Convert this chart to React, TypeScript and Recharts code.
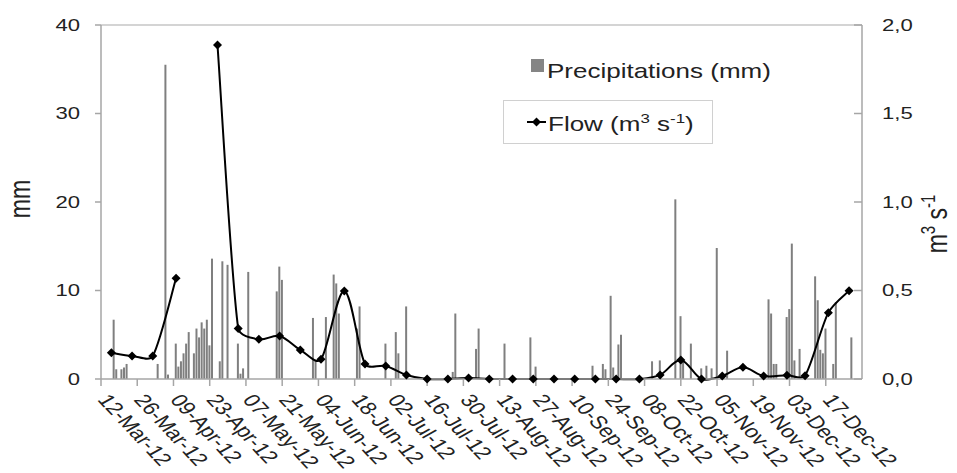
import { ComposedChart, Bar, Line, XAxis, YAxis, ReferenceLine } from "recharts";

// day 0 = 12-Mar-12, axis ends 31-Dec-12 (day 294)
const tickDays = [0, 14, 28, 42, 56, 70, 84, 98, 112, 126, 140, 154, 168, 182, 196, 210, 224, 238, 252, 266, 280];
const tickLabels = [
  "12-Mar-12", "26-Mar-12", "09-Apr-12", "23-Apr-12", "07-May-12", "21-May-12", "04-Jun-12",
  "18-Jun-12", "02-Jul-12", "16-Jul-12", "30-Jul-12", "13-Aug-12", "27-Aug-12", "10-Sep-12",
  "24-Sep-12", "08-Oct-12", "22-Oct-12", "05-Nov-12", "19-Nov-12", "03-Dec-12", "17-Dec-12",
];

const rainDay = [
  5, 6, 8, 9, 10, 22, 25, 26, 29, 30, 31, 32, 33, 34, 36, 37, 38, 39, 40, 41, 42, 43, 46, 47, 49,
  53, 54, 55, 57, 68, 69, 70, 82, 83, 87, 90, 91, 92, 99, 100, 110, 114, 115, 118, 136, 137, 145,
  146, 156, 166, 168, 190, 194, 195, 197, 198, 200, 201, 213, 216, 222, 224, 225, 228, 232, 234,
  236, 238, 242, 258, 259, 260, 261, 265, 266, 267, 268, 270, 276, 277, 278, 279, 280, 283, 284, 290,
];
const rainMm = [
  6.7, 1.1, 1.1, 1.3, 1.7, 1.7, 35.5, 0.5, 4.0, 1.4, 2.0, 2.9, 4.0, 5.3, 2.9, 5.7, 4.7, 6.4, 5.7,
  6.7, 3.8, 13.6, 2.0, 13.3, 12.9, 4.0, 0.6, 1.2, 12.1, 9.9, 12.7, 11.2, 6.9, 2.0, 7.0, 11.8, 10.8,
  7.4, 5.7, 8.2, 4.0, 5.3, 2.9, 8.2, 0.8, 7.4, 3.4, 5.7, 4.0, 4.7, 1.4, 1.5, 1.7, 1.1, 9.4, 1.3,
  3.9, 5.0, 2.0, 2.1, 20.3, 7.1, 2.1, 4.0, 1.2, 1.5, 1.2, 14.8, 3.2, 9.0, 7.4, 1.7, 1.7, 7.0, 7.9,
  15.3, 2.1, 3.4, 11.6, 8.9, 3.3, 2.9, 5.7, 1.7, 8.7, 4.7,
];

const flowDay = [
  4, 12, 20, 29, 37, 45, 53, 61, 69, 77, 85, 94, 102, 110, 118, 126, 134, 142, 150, 159, 167, 175,
  183, 191, 199, 208, 216, 224, 232, 240, 248, 256, 265, 272, 281, 289,
];
const flowM3s = [
  0.148, 0.13, 0.13, 0.569, null, 1.887, 0.286, 0.224, 0.243, 0.164, 0.111, 0.497, 0.085, 0.073,
  0.023, 0, 0, 0.005, 0, 0, 0, 0, 0, 0, 0, 0, 0.023, 0.107, 0, 0.017, 0.066, 0.017, 0.021, 0.019,
  0.375, 0.499,
];

const rainData = rainDay.map((day, i) => ({ day, mm: rainMm[i] }));
const flowData = flowDay.map((day, i) => ({ day, flow: flowM3s[i] }));

const FONT = "'Liberation Sans', Arial, sans-serif";
const SX = 1.3; // the source image is stretched sideways
const AXIS = "#a6a6a6";
const INK = "#222";

// Excel-like smoothed line: tangent along neighbours, handle length capped by the segment
const excelSmooth = (context: any) => {
  let pts: number[][] = [];
  const handle = (a: number[], b: number[], seg: number) => {
    const dx = b[0] - a[0];
    const dy = b[1] - a[1];
    const d = Math.hypot(dx, dy) || 1;
    const len = Math.min(seg / 3, d / 6);
    return [(dx / d) * len, (dy / d) * len];
  };
  return {
    areaStart() {},
    areaEnd() {},
    lineStart() {
      pts = [];
    },
    point(x: number, y: number) {
      pts.push([+x, +y]);
    },
    lineEnd() {
      if (!pts.length) return;
      context.moveTo(pts[0][0], pts[0][1]);
      for (let i = 0; i < pts.length - 1; i++) {
        const p0 = pts[i - 1] || pts[i];
        const p1 = pts[i];
        const p2 = pts[i + 1];
        const p3 = pts[i + 2] || p2;
        const seg = Math.hypot(p2[0] - p1[0], p2[1] - p1[1]);
        const t1 = handle(p0, p2, seg);
        const t2 = handle(p1, p3, seg);
        context.bezierCurveTo(p1[0] + t1[0], p1[1] + t1[1], p2[0] - t2[0], p2[1] - t2[1], p2[0], p2[1]);
      }
    },
  };
};

const LeftTick = ({ x, y, payload }: any) => (
  <g transform={`translate(${x},${y})`}>
    <text transform={`scale(${SX},1)`} textAnchor="end" dy="0.35em" fontSize={17} fill={INK} fontFamily={FONT}>
      {payload.value}
    </text>
  </g>
);

const RightTick = ({ x, y, payload }: any) => (
  <g>
    <line x1={x - 28} x2={x - 20} y1={y} y2={y} stroke={AXIS} strokeWidth={1.5} />
    <g transform={`translate(${x},${y})`}>
      <text transform={`scale(${SX},1)`} textAnchor="start" dy="0.35em" fontSize={17} fill={INK} fontFamily={FONT}>
        {Number(payload.value).toFixed(1).replace(".", ",")}
      </text>
    </g>
  </g>
);

const DateTick = ({ x, y, payload }: any) => {
  const label = tickLabels[tickDays.indexOf(payload.value)] ?? "";
  return (
    <g transform={`translate(${x + 10},${y})`}>
      <text transform={`scale(${SX},1) rotate(54)`} textAnchor="start" dy="0.75em" fontSize={18} fill={INK} fontFamily={FONT}>
        {label}
      </text>
    </g>
  );
};

const Diamond = (props: any) => {
  const { cx, cy, index, payload } = props;
  if (payload?.flow == null || cx == null || cy == null) return <g key={index} />;
  const r = 4.5;
  return (
    <polygon key={index} points={`${cx},${cy - r} ${cx + r},${cy} ${cx},${cy + r} ${cx - r},${cy}`} fill="#000" />
  );
};

export default function App() {
  return (
    <div style={{ position: "relative", width: 957, height: 473, background: "#fff", fontFamily: FONT }}>
      <style>{"body{margin:0}"}</style>
      <ComposedChart width={957} height={473} data={rainData} margin={{ top: 25, right: 0, bottom: 0, left: 41 }}>
        <XAxis
          dataKey="day"
          type="number"
          domain={[0, 294]}
          ticks={tickDays}
          interval={0}
          tick={<DateTick />}
          tickSize={7}
          tickMargin={6}
          height={94}
          stroke={AXIS}
          strokeWidth={1.5}
        />
        <YAxis
          yAxisId="left"
          domain={[0, 40]}
          ticks={[0, 10, 20, 30, 40]}
          width={60}
          tick={<LeftTick />}
          tickSize={6}
          tickMargin={15}
          stroke={AXIS}
          strokeWidth={1.5}
        />
        <YAxis
          yAxisId="right"
          orientation="right"
          domain={[0, 2]}
          ticks={[0, 0.5, 1, 1.5, 2]}
          width={95}
          tick={<RightTick />}
          tickSize={0}
          tickMargin={20}
          stroke={AXIS}
          strokeWidth={1.5}
        />
        <ReferenceLine yAxisId="left" y={40} stroke="#d4d4d4" strokeWidth={2} />
        <Bar yAxisId="left" dataKey="mm" barSize={2} fill="#7f7f7f" isAnimationActive={false} />
        <Line
          yAxisId="right"
          data={flowData}
          dataKey="flow"
          type={excelSmooth as any}
          stroke="#000"
          strokeWidth={2}
          dot={<Diamond />}
          activeDot={false}
          connectNulls={false}
          isAnimationActive={false}
        />
      </ComposedChart>

      <svg width={957} height={473} style={{ position: "absolute", left: 0, top: 0, pointerEvents: "none" }}>
        {/* axis titles */}
        <g transform="translate(30,199)">
          <text transform={`scale(${SX},1) rotate(-90)`} textAnchor="middle" fontSize={23} fill={INK} fontFamily={FONT}>
            mm
          </text>
        </g>
        <g transform="translate(947,224)">
          <text transform={`scale(${SX},1) rotate(-90)`} textAnchor="middle" fontSize={23} fill={INK} fontFamily={FONT}>
            m<tspan fontSize={15} dy={-9}>3</tspan>
            <tspan dy={9}> s</tspan>
            <tspan fontSize={15} dy={-9}>-1</tspan>
          </text>
        </g>

        {/* legend */}
        <rect x={531} y={59} width={13} height={13} fill="#858585" />
        <g transform="translate(547,78)">
          <text transform={`scale(${SX},1)`} fontSize={20} fill={INK} fontFamily={FONT}>
            Precipitations (mm)
          </text>
        </g>
        <rect x={503.5} y={100.5} width={209} height={43} fill="#fff" stroke="#d0d0d0" />
        <line x1={527} x2={546} y1={122} y2={122} stroke="#000" strokeWidth={2} />
        <polygon points="536.5,117.5 541,122 536.5,126.5 532,122" fill="#000" />
        <g transform="translate(548,131)">
          <text transform={`scale(${SX},1)`} fontSize={20} fill={INK} fontFamily={FONT}>
            Flow (m<tspan fontSize={13} dy={-8}>3</tspan>
            <tspan dy={8}> s</tspan>
            <tspan fontSize={13} dy={-8}>-1</tspan>
            <tspan dy={8}>)</tspan>
          </text>
        </g>
      </svg>
    </div>
  );
}
